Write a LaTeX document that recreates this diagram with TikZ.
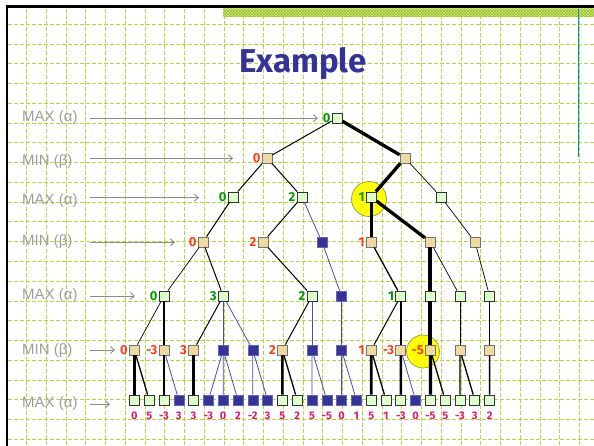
\documentclass[tikz,border=0pt]{standalone}
\usepackage{fontspec}
\setmainfont{Liberation Sans}
\newfontfamily\comicfont{Fira Sans}
\usetikzlibrary{arrows.meta,patterns}
\definecolor{gridc}{RGB}{182,214,60}
\definecolor{titlec}{RGB}{51,51,153}
\definecolor{maxfill}{RGB}{221,255,204}
\definecolor{minfill}{RGB}{238,218,158}
\definecolor{prunec}{RGB}{51,51,153}
\definecolor{bluel}{RGB}{75,75,170}
\definecolor{maxlab}{RGB}{0,155,0}
\definecolor{minlab}{RGB}{255,60,20}
\definecolor{leaflabc}{RGB}{225,25,110}
\definecolor{sidelab}{RGB}{158,158,158}
\definecolor{arrowc}{RGB}{140,140,140}
\definecolor{hatchc}{RGB}{150,195,30}
\definecolor{hatchbg}{RGB}{205,230,120}
\definecolor{tealc}{RGB}{0,150,160}
\definecolor{circc}{RGB}{255,255,0}
\begin{document}
\begin{tikzpicture}[x=1pt,y=-1pt,
  gridline/.style={draw=gridc,line width=1pt,dash pattern=on 4pt off 2pt},
  maxnode/.style={draw=black!80,fill=maxfill,minimum size=10pt,inner sep=0pt,line width=0.8pt},
  minnode/.style={draw=black!55,fill=minfill,minimum size=10pt,inner sep=0pt,line width=0.8pt},
  prune/.style={draw=prunec!75!white,fill=prunec,minimum size=10pt,inner sep=0pt,line width=0.6pt},
  vmax/.style={text=maxlab,font=\comicfont\bfseries\fontsize{13}{13}\selectfont,inner sep=1pt},
  vmin/.style={text=minlab,font=\comicfont\bfseries\fontsize{13}{13}\selectfont,inner sep=1pt},
  leaflab/.style={text=leaflabc,font=\comicfont\bfseries\fontsize{11}{11}\selectfont,inner sep=0pt},
  side/.style={text=sidelab,font=\fontsize{15}{15}\selectfont,anchor=west,inner sep=0pt},
  sidearrow/.style={draw=arrowc,line width=0.9pt,-{Straight Barb[length=4pt,width=7pt]}},
  evthin/.style={draw=black,line width=0.7pt},
  ethin/.style={draw=black,line width=1pt},
  emed/.style={draw=black,line width=1.3pt},
  ethick/.style={draw=black,line width=2.6pt},
  ebold/.style={draw=black,line width=3.3pt},
  ebolder/.style={draw=black,line width=4pt},
  eblue/.style={draw=bluel,line width=0.8pt},
  circ/.style={fill=circc,draw=black!50!yellow,line width=0.6pt}]
\useasboundingbox (0,0) rectangle (594,446);
% grid
\foreach \k in {0,...,28} \draw[gridline] ({26.5+19.75*\k},9) -- ({26.5+19.75*\k},446);
\foreach \k in {0,...,21} \draw[gridline] (8,{24.5+19.75*\k}) -- (594,{24.5+19.75*\k});
% hatched band
\fill[hatchbg] (223,9) rectangle (594,17);
\fill[pattern=crosshatch,pattern color=hatchc] (223,9) rectangle (594,17);
% borders
\draw[line width=2.2pt] (7.3,6.5) -- (594,6.5);
\draw[line width=2.2pt] (7.3,5.4) -- (7.3,446);
\draw[tealc,line width=1pt] (578,9) -- (578,157);
% title
\node[text=titlec,font=\comicfont\bfseries\fontsize{33}{33}\selectfont,anchor=base,inner sep=0pt] (title) at (303,73) {Example};
% side labels
\node[side] (s1) at (22,118) {MAX (α)};
\node[side] (s2) at (22,162) {MIN (β)};
\node[side] (s3) at (22,201) {MAX (α)};
\node[side] (s4) at (22,241.7) {MIN (β)};
\node[side] (s5) at (22,295.3) {MAX (α)};
\node[side] (s6) at (22,350.5) {MIN (β)};
\node[side] (s7) at (22,404) {MAX (α)};
\coordinate (a1s) at (90,118.3); \coordinate (a1e) at (318,118.3);
\coordinate (a2s) at (90,158.3); \coordinate (a2e) at (233,158.3);
\coordinate (a3s) at (90,197.7); \coordinate (a3e) at (199,197.7);
\coordinate (a4s) at (90,242.3); \coordinate (a4e) at (175,242.3);
\coordinate (a5s) at (90,296); \coordinate (a5e) at (135,296);
\coordinate (a6s) at (90,350); \coordinate (a6e) at (115,350);
\coordinate (a7s) at (90,404.3); \coordinate (a7e) at (110,404.3);
\foreach \i in {1,...,7} \draw[sidearrow] (a\i s) -- (a\i e);
% highlight circles
\draw[circ] (369,199) circle[radius=17.5pt];
\draw[circ] (423,351.5) circle[radius=16.5pt];
% level 0-3
\node[maxnode,label={[vmax]left:0}] (r) at (337,118) {};
\node[minnode,label={[vmin]left:0}] (a) at (267,158) {};
\node[minnode] (b) at (405,158) {};
\node[maxnode,label={[vmax]left:0}] (aa) at (233,197) {};
\node[maxnode,label={[vmax]left:2}] (ab) at (302,197) {};
\node[maxnode,label={[vmax]left:1}] (ba) at (371.2,197) {};
\node[maxnode] (bb) at (441,197) {};
\node[minnode,label={[vmin]left:0}] (aaa) at (203,242) {};
\node[minnode,label={[vmin]left:2}] (aba) at (263,242) {};
\node[prune] (abb) at (322,242) {};
\node[minnode,label={[vmin]left:1}] (baa) at (371.2,242) {};
\node[minnode] (bab) at (430.4,242) {};
\node[minnode] (bba) at (475,242) {};
% level 4
\node[maxnode,label={[vmax]left:0}] (m1) at (164,296) {};
\node[maxnode,label={[vmax]left:3}] (m2) at (223.2,296) {};
\node[maxnode,label={[vmax]left:2}] (m3) at (312,296) {};
\node[prune] (m4) at (341.6,296) {};
\node[maxnode,label={[vmax]left:1}] (m5) at (400.8,296) {};
\node[maxnode] (m6) at (430.4,296) {};
\node[maxnode] (m7) at (460,296) {};
\node[maxnode] (m8) at (489.6,296) {};
% level 5
\node[minnode,label={[vmin]left:0}] (n1) at (134.4,350) {};
\node[minnode,label={[vmin]left:-3}] (n2) at (164,350) {};
\node[minnode,label={[vmin]left:3}] (n3) at (193.6,350) {};
\node[prune] (n4) at (223.2,350) {};
\node[prune] (n5) at (252.8,350) {};
\node[minnode,label={[vmin]left:2}] (n6) at (282.4,350) {};
\node[prune] (n7) at (312,350) {};
\node[prune] (n8) at (341.6,350) {};
\node[minnode,label={[vmin]left:1}] (n9) at (371.2,350) {};
\node[minnode,label={[vmin]left:-3}] (n10) at (400.8,350) {};
\node[minnode,label={[vmin]left:-5}] (n11) at (430.4,350) {};
\node[minnode] (n12) at (460,350) {};
\node[minnode] (n13) at (489.6,350) {};
% leaves
\foreach \i/\ty/\v in {0/maxnode/0,1/maxnode/5,2/maxnode/-3,3/prune/3,4/maxnode/3,5/prune/-3,6/prune/0,7/prune/2,8/prune/-2,9/prune/3,10/maxnode/5,11/maxnode/2,12/prune/5,13/prune/-5,14/prune/0,15/prune/1,16/maxnode/5,17/maxnode/1,18/maxnode/-3,19/prune/0,20/maxnode/-5,21/maxnode/5,22/maxnode/-3,23/maxnode/3,24/maxnode/2}{
  \node[\ty] (L\i) at ({134.4+14.8*\i},400) {};
  \node[leaflab] (T\i) at ({134.4+14.8*\i},415.5) {\v};
}
% edges
\draw[ethin] (r) -- (a);
\draw[ebold] (r) -- (b);
\draw[ethin] (a) -- (aa);
\draw[ethin] (a) -- (ab);
\draw[ebold] (b) -- (ba);
\draw[evthin] (b) -- (bb);
\draw[ethin] (aa) -- (aaa);
\draw[ethin] (ab) -- (aba);
\draw[eblue] (ab) -- (abb);
\draw[ethick] (ba) -- (baa);
\draw[ebold] (ba) -- (bab);
\draw[evthin] (bb) -- (bba);
\draw[evthin] (aaa) -- (m1);
\draw[ethin] (aaa) -- (m2);
\draw[ethin] (aba) -- (m3);
\draw[eblue] (abb) -- (m4);
\draw[emed] (baa) -- (m5);
\draw[ebolder] (bab) -- (m6);
\draw[evthin] (bab) -- (m7);
\draw[evthin] (bba) -- (m8);
\draw[evthin] (m1) -- (n1);
\draw[ethick] (m1) -- (n2);
\draw[ethin] (m2) -- (n3);
\draw[eblue] (m2) -- (n4);
\draw[eblue] (m2) -- (n5);
\draw[ethin] (m3) -- (n6);
\draw[eblue] (m3) -- (n7);
\draw[eblue] (m4) -- (n8);
\draw[ethin] (m5) -- (n9);
\draw[ethick] (m5) -- (n10);
\draw[ebolder] (m6) -- (n11);
\draw[ethin] (m7) -- (n12);
\draw[ethin] (m8) -- (n13);
\draw[ethick] (n1) -- (L0);
\draw[emed] (n1) -- (L1);
\draw[ethick] (n2) -- (L2);
\draw[eblue] (n2) -- (L3);
\draw[ethick] (n3) -- (L4);
\draw[eblue] (n4) -- (L5);
\draw[eblue] (n4) -- (L6);
\draw[eblue] (n4) -- (L7);
\draw[eblue] (n5) -- (L8);
\draw[eblue] (n5) -- (L9);
\draw[ethick] (n6) -- (L10);
\draw[emed] (n6) -- (L11);
\draw[eblue] (n7) -- (L12);
\draw[eblue] (n7) -- (L13);
\draw[eblue] (n8) -- (L14);
\draw[eblue] (n8) -- (L15);
\draw[ethick] (n9) -- (L16);
\draw[emed] (n9) -- (L17);
\draw[ethick] (n10) -- (L18);
\draw[eblue] (n10) -- (L19);
\draw[ebold] (n11) -- (L20);
\draw[emed] (n11) -- (L21);
\draw[emed] (n12) -- (L22);
\draw[emed] (n12) -- (L23);
\draw[emed] (n13) -- (L24);
\end{tikzpicture}
\end{document}
